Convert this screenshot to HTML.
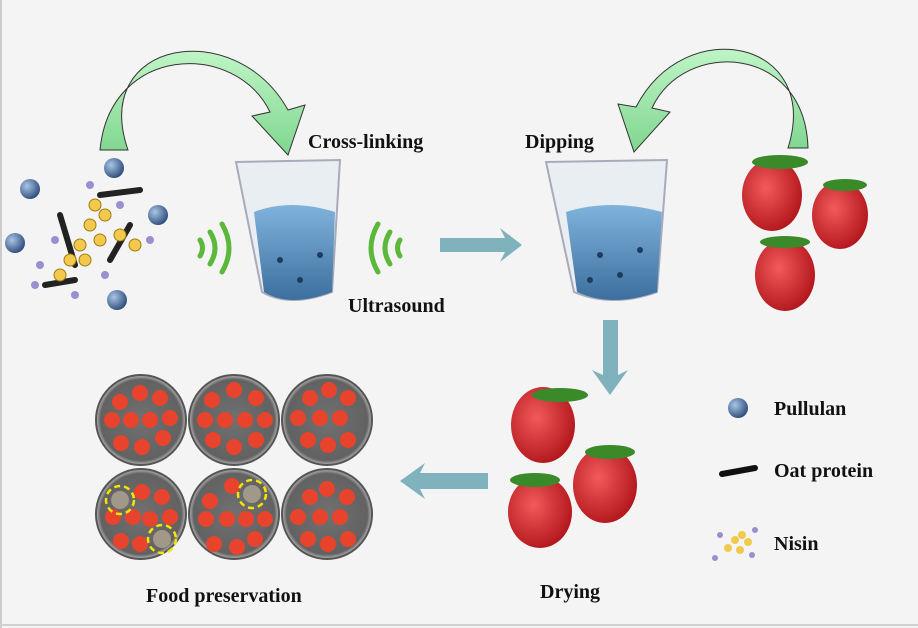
<!DOCTYPE html>
<html><head><style>
body{margin:0;background:#fff}
svg{display:block}
text{font-family:"Liberation Serif",serif;font-weight:bold;font-size:20px;fill:#111}
</style></head><body>
<svg width="918" height="628" viewBox="0 0 918 628">
<defs>
<radialGradient id="ball" cx="35%" cy="35%" r="70%"><stop offset="0" stop-color="#a9c4e6"/><stop offset="1" stop-color="#2c4c7a"/></radialGradient>
<radialGradient id="berry" cx="40%" cy="40%" r="65%"><stop offset="0" stop-color="#f25a5a"/><stop offset="1" stop-color="#b0151b"/></radialGradient>
<radialGradient id="dish" cx="50%" cy="50%" r="50%"><stop offset="0" stop-color="#707070"/><stop offset=".9" stop-color="#626262"/><stop offset="1" stop-color="#b8b8b8"/></radialGradient>
<linearGradient id="water" x1="0" y1="0" x2="0" y2="1"><stop offset="0" stop-color="#7fb3dc"/><stop offset="1" stop-color="#3d6f9e"/></linearGradient>
<linearGradient id="garr" x1="0" y1="0" x2="0" y2="1"><stop offset="0" stop-color="#bff5c6"/><stop offset="1" stop-color="#7fd68f"/></linearGradient>
</defs>
<rect width="918" height="628" fill="#f4f4f4"/>
<line x1="1" y1="0" x2="1" y2="628" stroke="#ccc" stroke-width="2"/>
<line x1="0" y1="625" x2="918" y2="625" stroke="#d0d0d0" stroke-width="2"/>

<path d="M100,150 C110,45 235,40 270,112 L252,116 L288,155 L305,105 L288,110 C235,15 90,40 128,150 Z" fill="url(#garr)" stroke="#333" stroke-width="1"/>
<path d="M808,148 C805,45 685,38 652,108 L670,112 L634,152 L618,104 L636,107 C685,12 822,40 788,148 Z" fill="url(#garr)" stroke="#333" stroke-width="1"/>

<g stroke="#222" stroke-width="6" stroke-linecap="round">
<line x1="60" y1="215" x2="75" y2="265"/><line x1="100" y1="195" x2="140" y2="190"/>
<line x1="110" y1="260" x2="130" y2="225"/><line x1="45" y1="285" x2="75" y2="280"/>
</g>
<g fill="#f2c94c" stroke="#a07a10" stroke-width="1">
<circle cx="95" cy="205" r="6"/><circle cx="105" cy="215" r="6"/><circle cx="90" cy="225" r="6"/><circle cx="100" cy="240" r="6"/><circle cx="80" cy="245" r="6"/><circle cx="70" cy="260" r="6"/><circle cx="85" cy="260" r="6"/><circle cx="120" cy="235" r="6"/><circle cx="135" cy="245" r="6"/><circle cx="60" cy="275" r="6"/>
</g>
<g fill="#9b8fd0"><circle cx="90" cy="185" r="4"/><circle cx="120" cy="205" r="4"/><circle cx="40" cy="265" r="4"/><circle cx="35" cy="285" r="4"/><circle cx="105" cy="275" r="4"/><circle cx="150" cy="240" r="4"/><circle cx="75" cy="295" r="4"/><circle cx="55" cy="240" r="4"/></g>
<g fill="url(#ball)"><circle cx="114" cy="168" r="10"/><circle cx="30" cy="189" r="10"/><circle cx="158" cy="215" r="10"/><circle cx="15" cy="243" r="10"/><circle cx="117" cy="300" r="10"/></g>

<g fill="none" stroke="#5bb83a" stroke-width="5" stroke-linecap="round">
<path d="M200,240 q5,8 0,16"/><path d="M210,232 q10,16 0,32"/><path d="M222,224 q14,24 0,48"/>
<path d="M400,240 q-5,8 0,16"/><path d="M390,232 q-10,16 0,32"/><path d="M378,224 q-14,24 0,48"/>
</g>

<g>
<path d="M236,162 L340,160 L332,292 Q290,308 262,292 Z" fill="#e8eef2" stroke="#aab" stroke-width="2"/>
<path d="M254,212 Q290,198 335,212 L332,292 Q290,308 264,292 Z" fill="url(#water)"/>
<path d="M546,162 L667,160 L657,292 Q612,308 574,292 Z" fill="#e8eef2" stroke="#aab" stroke-width="2"/>
<path d="M566,212 Q610,198 662,212 L657,292 Q612,308 577,292 Z" fill="url(#water)"/>
<g fill="#1f3a60"><circle cx="280" cy="260" r="3"/><circle cx="300" cy="280" r="3"/><circle cx="320" cy="255" r="3"/><circle cx="600" cy="255" r="3"/><circle cx="620" cy="275" r="3"/><circle cx="640" cy="250" r="3"/><circle cx="590" cy="280" r="3"/></g>
</g>

<g fill="#7fb2bd">
<path d="M440,238 L505,238 L500,228 L522,245 L500,262 L505,252 L440,252 Z"/>
<path d="M603,320 L618,320 L618,375 L628,370 L610,395 L592,370 L603,375 Z"/>
<path d="M488,473 L420,473 L425,463 L400,481 L425,499 L420,489 L488,489 Z"/>
</g>

<g fill="url(#berry)">
<ellipse cx="772" cy="195" rx="30" ry="36"/><ellipse cx="840" cy="215" rx="28" ry="34"/><ellipse cx="785" cy="275" rx="30" ry="36"/>
<ellipse cx="543" cy="425" rx="32" ry="38"/><ellipse cx="605" cy="485" rx="32" ry="38"/><ellipse cx="540" cy="512" rx="32" ry="36"/>
</g>
<g fill="#3a8a2a">
<ellipse cx="780" cy="162" rx="28" ry="7"/><ellipse cx="845" cy="185" rx="22" ry="6"/><ellipse cx="785" cy="242" rx="25" ry="6"/>
<ellipse cx="560" cy="395" rx="28" ry="7"/><ellipse cx="610" cy="452" rx="25" ry="7"/><ellipse cx="535" cy="480" rx="25" ry="7"/>
</g>

<g stroke="#555" stroke-width="2" fill="url(#dish)">
<circle cx="141" cy="420" r="45"/><circle cx="234" cy="420" r="45"/><circle cx="327" cy="420" r="45"/>
</g>
<g stroke="#555" stroke-width="2" fill="url(#dish)" transform="translate(0,4)">
<circle cx="141" cy="510" r="45"/><circle cx="234" cy="510" r="45"/><circle cx="327" cy="510" r="45"/>
</g>
<g fill="#e8432c">
<circle cx="120" cy="402" r="8"/><circle cx="140" cy="393" r="8"/><circle cx="160" cy="398" r="8"/><circle cx="112" cy="420" r="8"/><circle cx="131" cy="420" r="8"/><circle cx="150" cy="420" r="8"/><circle cx="170" cy="418" r="8"/><circle cx="121" cy="443" r="8"/><circle cx="142" cy="447" r="8"/><circle cx="163" cy="438" r="8"/>
<circle cx="212" cy="400" r="8"/><circle cx="234" cy="390" r="8"/><circle cx="256" cy="398" r="8"/><circle cx="205" cy="420" r="8"/><circle cx="225" cy="420" r="8"/><circle cx="245" cy="420" r="8"/><circle cx="265" cy="420" r="8"/><circle cx="213" cy="440" r="8"/><circle cx="234" cy="447" r="8"/><circle cx="256" cy="440" r="8"/>
<circle cx="310" cy="398" r="8"/><circle cx="329" cy="390" r="8"/><circle cx="348" cy="398" r="8"/><circle cx="298" cy="418" r="8"/><circle cx="320" cy="418" r="8"/><circle cx="340" cy="418" r="8"/><circle cx="308" cy="440" r="8"/><circle cx="328" cy="445" r="8"/><circle cx="348" cy="440" r="8"/>
</g>
<g fill="#e8432c" transform="translate(0,4)">
<circle cx="142" cy="488" r="8"/><circle cx="162" cy="493" r="8"/><circle cx="113" cy="513" r="8"/><circle cx="133" cy="513" r="8"/><circle cx="150" cy="515" r="8"/><circle cx="170" cy="513" r="8"/><circle cx="121" cy="537" r="8"/><circle cx="140" cy="540" r="8"/>
<circle cx="232" cy="482" r="8"/><circle cx="210" cy="497" r="8"/><circle cx="206" cy="515" r="8"/><circle cx="227" cy="515" r="8"/><circle cx="246" cy="515" r="8"/><circle cx="265" cy="515" r="8"/><circle cx="214" cy="540" r="8"/><circle cx="237" cy="543" r="8"/><circle cx="255" cy="535" r="8"/>
<circle cx="310" cy="493" r="8"/><circle cx="327" cy="485" r="8"/><circle cx="347" cy="493" r="8"/><circle cx="298" cy="513" r="8"/><circle cx="320" cy="513" r="8"/><circle cx="340" cy="513" r="8"/><circle cx="308" cy="535" r="8"/><circle cx="328" cy="540" r="8"/><circle cx="348" cy="535" r="8"/>
<circle cx="120" cy="496" r="9" fill="#a09888"/><circle cx="162" cy="535" r="9" fill="#a09888"/><circle cx="252" cy="490" r="9" fill="#a09888"/>
<g fill="none" stroke="#f5e500" stroke-width="2.5" stroke-dasharray="6,4"><circle cx="120" cy="496" r="14"/><circle cx="162" cy="535" r="14"/><circle cx="252" cy="490" r="14"/></g>
</g>

<circle cx="738" cy="408" r="10" fill="url(#ball)"/>
<line x1="722" y1="474" x2="755" y2="468" stroke="#111" stroke-width="6" stroke-linecap="round"/>
<g fill="#f2c94c"><circle cx="735" cy="540" r="4"/><circle cx="742" cy="535" r="4"/><circle cx="748" cy="542" r="4"/><circle cx="728" cy="548" r="4"/><circle cx="740" cy="550" r="4"/></g>
<g fill="#9b8fd0"><circle cx="720" cy="535" r="3"/><circle cx="755" cy="530" r="3"/><circle cx="715" cy="558" r="3"/><circle cx="752" cy="555" r="3"/></g>

<text x="308" y="148">Cross-linking</text>
<text x="525" y="148">Dipping</text>
<text x="348" y="312">Ultrasound</text>
<text x="540" y="598">Drying</text>
<text x="146" y="602">Food preservation</text>
<text x="774" y="415">Pullulan</text>
<text x="774" y="477">Oat protein</text>
<text x="774" y="550">Nisin</text>
</svg>
</body></html>
